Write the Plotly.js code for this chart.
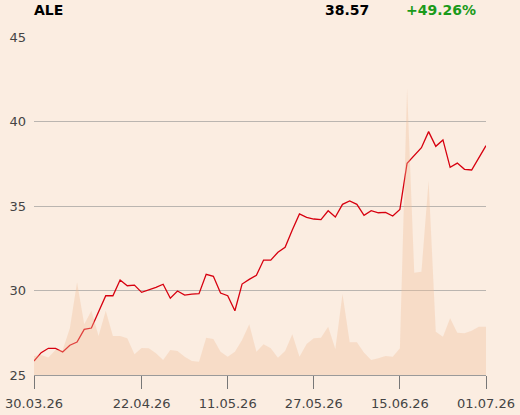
<!DOCTYPE html>
<html>
<head>
<meta charset="utf-8">
<script src="https://cdn.plot.ly/plotly-3.0.1.min.js"></script>
<style>
  html, body { margin: 0; padding: 0; background: #fbede1; }
  #chart { width: 520px; height: 415px; }
</style>
</head>
<body>
<div id="chart"></div>
<script>
// Trading-day index 0..63 (30.03.26 .. 01.07.26)
const tickIndex = [0, 15, 27, 39, 51, 63];
const tickLabels = ["30.03.26", "22.04.26", "11.05.26", "27.05.26", "15.06.26", "01.07.26"];

const price = [
  25.83, 26.32, 26.58, 26.58, 26.36, 26.76, 26.95, 27.70, 27.78, 28.75,
  29.69, 29.69, 30.62, 30.28, 30.32, 29.89, 30.03, 30.19, 30.37, 29.54,
  29.97, 29.73, 29.79, 29.81, 30.96, 30.84, 29.85, 29.69, 28.80, 30.38,
  30.66, 30.90, 31.80, 31.80, 32.26, 32.56, 33.58, 34.53, 34.33, 34.23,
  34.19, 34.72, 34.35, 35.10, 35.30, 35.10, 34.45, 34.72, 34.60, 34.62,
  34.41, 34.80, 37.53, 37.98, 38.45, 39.40, 38.53, 38.91, 37.29, 37.54,
  37.17, 37.13, 37.82, 38.57
];

const volume = [
  19, 20, 17.5, 25, 25, 46.7, 92.7, 50.7, 64.3, 39,
  64.3, 39, 39, 36.7, 20.7, 27, 26.7, 21.7, 15, 25,
  24, 18.3, 14, 13.3, 37.3, 36, 23.3, 18.3, 23.3, 35,
  50.7, 23.3, 30.7, 26.7, 17.3, 24, 40.7, 18.3, 31, 36.7,
  37.3, 48.3, 26, 81, 32.7, 32.7, 22.3, 15, 16.7, 19,
  18.3, 26.7, 286.7, 102.3, 103.3, 194.3, 43.3, 38.3, 56.7, 42.3,
  41.7, 44.3, 48.3, 48.3
];

const ticker = "ALE";
const lastPrice = "38.57";
const change = "+49.26%";

const idx = price.map((_, i) => i);

const traces = [
  {
    x: idx, y: volume, yaxis: 'y2', type: 'scatter', mode: 'lines',
    fill: 'tozeroy', line: {width: 0, color: 'rgba(241,189,152,0)'},
    fillcolor: 'rgba(241,189,152,0.35)', hoverinfo: 'skip'
  },
  {
    x: idx, y: price, type: 'scatter', mode: 'lines',
    line: {color: '#d7000f', width: 1.3}
  }
];

const font = {family: 'DejaVu Sans, sans-serif', size: 13, color: '#444444'};

const layout = {
  width: 520, height: 415,
  margin: {l: 34, r: 34, t: 37, b: 40},
  paper_bgcolor: '#fbede1', plot_bgcolor: '#fbede1',
  showlegend: false,
  font: font,
  xaxis: {
    range: [0, 63], tickvals: tickIndex, ticktext: tickLabels,
    showgrid: false, zeroline: false,
    showline: true, linecolor: '#9a9a9a', linewidth: 1,
    ticks: 'outside', ticklen: 13, tickcolor: '#777', tickwidth: 1,
    ticklabelstandoff: 3,
    tickfont: font, fixedrange: true
  },
  yaxis: {
    range: [25, 45], tickvals: [25, 30, 35, 40, 45],
    showgrid: true, gridcolor: '#bab5b0', gridwidth: 1,
    zeroline: false, showline: false, ticks: '',
    ticklabelstandoff: 7,
    tickfont: font, fixedrange: true
  },
  yaxis2: {
    overlaying: 'y', range: [0, 338], visible: false, fixedrange: true
  },
  annotations: [
    {xref: 'paper', yref: 'paper', x: -0.005, y: 1.08, xanchor: 'left', yanchor: 'middle',
     text: '<b>' + ticker + '</b>', showarrow: false,
     font: {family: 'DejaVu Sans, sans-serif', size: 14, color: '#000'}},
    {xref: 'paper', yref: 'paper', x: 0.745, y: 1.08, xanchor: 'right', yanchor: 'middle',
     text: '<b>' + lastPrice + '</b>', showarrow: false,
     font: {family: 'DejaVu Sans, sans-serif', size: 14, color: '#000'}},
    {xref: 'paper', yref: 'paper', x: 0.818, y: 1.08, xanchor: 'left', yanchor: 'middle',
     text: '<b>' + change + '</b>', showarrow: false,
     font: {family: 'DejaVu Sans, sans-serif', size: 14, color: '#1a9a1a'}}
  ]
};

Plotly.newPlot('chart', traces, layout, {displayModeBar: false, staticPlot: true});
</script>
</body>
</html>
